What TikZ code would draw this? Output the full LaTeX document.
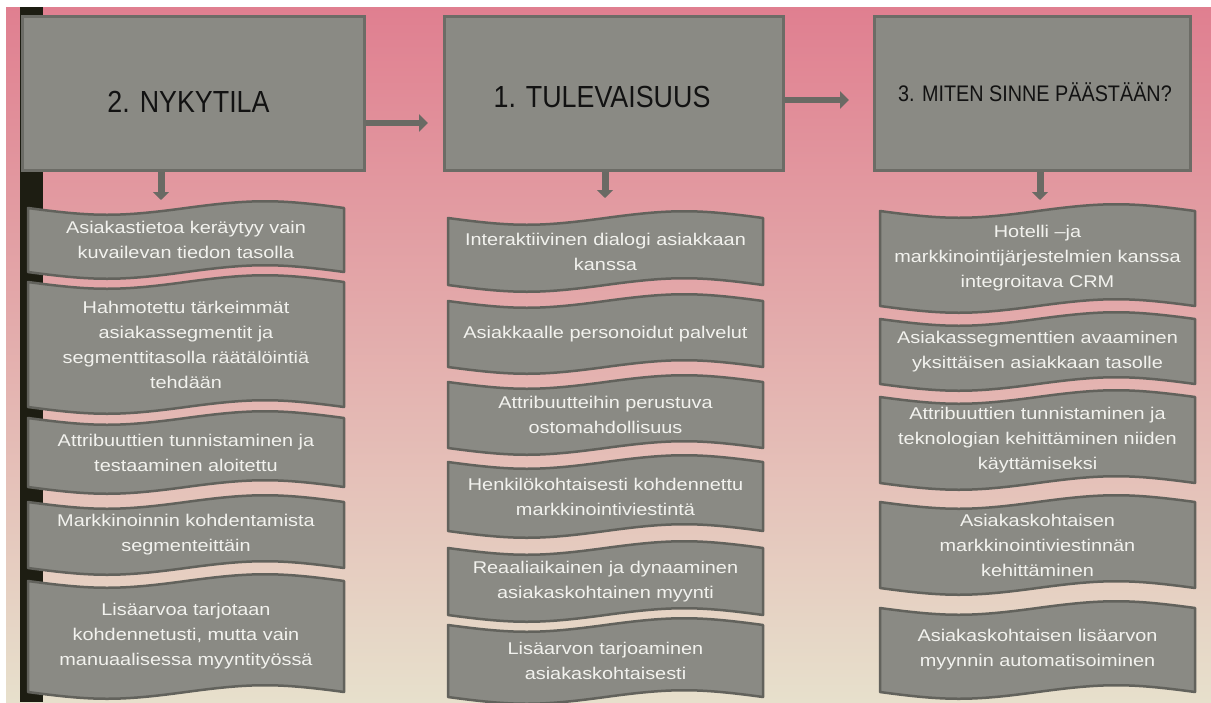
\documentclass[tikz,border=0pt]{standalone}
\usepackage{fontspec}
\setmainfont{Liberation Sans}
\newfontfamily\itemfont[FakeStretch=1.17]{Liberation Sans}
\newfontfamily\titlefont[FakeStretch=0.88]{Liberation Sans}
\usetikzlibrary{arrows.meta}
\definecolor{bgtop}{HTML}{E07F90}
\definecolor{bgmid}{HTML}{E1A2A4}
\definecolor{bgbot}{HTML}{E7E0CC}
\definecolor{barcol}{HTML}{1D1D12}
\definecolor{boxfill}{HTML}{8A8A84}
\definecolor{boxline}{HTML}{6C6C66}
\definecolor{tapeline}{HTML}{62625C}
\definecolor{arrowcol}{HTML}{6A6A64}
\definecolor{itemfg}{HTML}{F2F2EE}
\definecolor{titlefg}{HTML}{121212}
\tikzset{
  hbox/.style={draw=boxline, line width=3pt, fill=boxfill, rectangle, inner sep=0pt, minimum height=154pt},
  htext/.style={text=titlefg, inner sep=0pt},
  tape/.style={draw=tapeline, line width=2.5pt, fill=boxfill, line join=round},
  itemtext/.style={align=center, text=itemfg, inner sep=0pt, font=\itemfont\fontsize{17}{25}\selectfont},
  harrow/.style={draw=arrowcol, line width=6pt, -{Triangle[width=17pt,length=9pt]}},
  darrow/.style={draw=arrowcol, line width=7pt, -{Triangle[width=16pt,length=8pt]}}
}
\def\tapeamp{9}
\newcommand\tapeitem[6]{%
  \pgfmathsetmacro\tpmid{(#2+#4)/2}%
  \pgfmathsetmacro\tpq{0.42*(#4-#2)/2}%
  \draw[tape] (#2,#3) .. controls ({#2+\tpq},{#3+\tapeamp}) and ({\tpmid-\tpq},{#3+\tapeamp}) .. (\tpmid,#3)
     .. controls ({\tpmid+\tpq},{#3-\tapeamp}) and ({#4-\tpq},{#3-\tapeamp}) .. (#4,#3)
     -- (#4,#5) .. controls ({#4-\tpq},{#5-\tapeamp}) and ({\tpmid+\tpq},{#5-\tapeamp}) .. (\tpmid,#5)
     .. controls ({\tpmid-\tpq},{#5+\tapeamp}) and ({#2+\tpq},{#5+\tapeamp}) .. (#2,#5) -- cycle;
  \node[itemtext] (#1) at (\tpmid,{(#3+#5)/2}) {#6};}
\begin{document}
\begin{tikzpicture}[x=1pt, y=-1pt]
\useasboundingbox (0,0) rectangle (1211,702);
\fill[white] (0,0) rectangle (1211,702);
\shade[top color=bgtop, middle color=bgmid, bottom color=bgbot] (6,7) rectangle (1211,702);
\fill[barcol] (20,7) rectangle (43,702);

% header boxes
\node[hbox, minimum width=342pt] (h1) at (193.5,93) {};
\node[hbox, minimum width=339pt] (h2) at (614,93) {};
\node[hbox, minimum width=316pt] (h3) at (1032.5,93) {};
\node[htext, font=\titlefont\fontsize{30.5}{34}\selectfont] (t1) at (188.5,102) {2. NYKYTILA};
\node[htext, font=\titlefont\fontsize{30.5}{34}\selectfont] (t2) at (602,97) {1. TULEVAISUUS};
\node[htext, font=\titlefont\fontsize{22.5}{26}\selectfont] (t3) at (1035,92) {3. MITEN SINNE PÄÄSTÄÄN?};

% header arrows
\coordinate (a1) at (428,123);
\coordinate (a2) at (849,100);
\draw[harrow] (h1.east |- a1) -- (a1);
\draw[harrow] (h2.east |- a2) -- (a2);

% down arrows
\coordinate (d1) at (161,200);
\coordinate (d2) at (605,198);
\coordinate (d3) at (1040,200);
\draw[darrow] (h1.south -| d1) -- (d1);
\draw[darrow] (h2.south -| d2) -- (d2);
\draw[darrow] (h3.south -| d3) -- (d3);

% left column
\tapeitem{l1}{28}{208}{344}{272}{Asiakastietoa keräytyy vain\\kuvailevan tiedon tasolla}
\tapeitem{l2}{28}{282}{344}{407}{Hahmotettu tärkeimmät\\asiakassegmentit ja\\segmenttitasolla räätälöintiä\\tehdään}
\tapeitem{l3}{28}{418}{344}{487}{Attribuuttien tunnistaminen ja\\testaaminen aloitettu}
\tapeitem{l4}{28}{502}{344}{568}{Markkinoinnin kohdentamista\\segmenteittäin}
\tapeitem{l5}{28}{581}{344}{692}{Lisäarvoa tarjotaan\\kohdennetusti, mutta vain\\manuaalisessa myyntityössä}

% middle column
\tapeitem{m1}{448}{218}{763}{285}{Interaktiivinen dialogi asiakkaan\\kanssa}
\tapeitem{m2}{448}{301}{763}{367}{Asiakkaalle personoidut palvelut}
\tapeitem{m3}{448}{382}{763}{448}{Attribuutteihin perustuva\\ostomahdollisuus}
\tapeitem{m4}{448}{462}{763}{531}{Henkilökohtaisesti kohdennettu\\markkinointiviestintä}
\tapeitem{m5}{448}{548}{763}{615}{Reaaliaikainen ja dynaaminen\\asiakaskohtainen myynti}
\tapeitem{m6}{448}{625}{763}{697}{Lisäarvon tarjoaminen\\asiakaskohtaisesti}

% right column
\tapeitem{r1}{880}{211}{1195}{306}{Hotelli –ja\\markkinointijärjestelmien kanssa\\integroitava CRM}
\tapeitem{r2}{880}{319}{1195}{384}{Asiakassegmenttien avaaminen\\yksittäisen asiakkaan tasolle}
\tapeitem{r3}{880}{397}{1195}{483}{Attribuuttien tunnistaminen ja\\teknologian kehittäminen niiden\\käyttämiseksi}
\tapeitem{r4}{880}{502}{1195}{588}{Asiakaskohtaisen\\markkinointiviestinnän\\kehittäminen}
\tapeitem{r5}{880}{608}{1195}{692}{Asiakaskohtaisen lisäarvon\\myynnin automatisoiminen}
\end{tikzpicture}
\end{document}
